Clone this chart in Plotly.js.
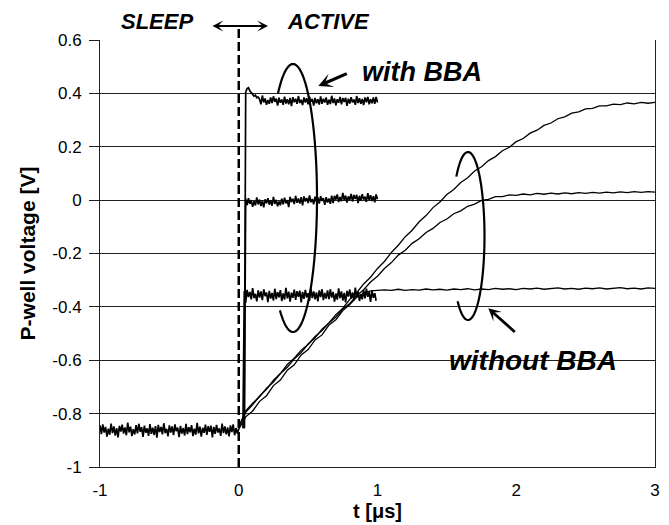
<!DOCTYPE html>
<html>
<head>
<meta charset="utf-8">
<script src="https://cdn.plot.ly/plotly-3.0.1.min.js"></script>
<style>html,body{margin:0;padding:0;background:#fff;}#chart{width:669px;height:525px;}</style>
</head>
<body>
<div id="chart"></div>
<script>
// ---- Data ----
// x axis tick values / labels
const xTickVals = [-1, 0, 1, 2, 3];
const xTickText = ['-1', '0', '1', '2', '3'];
// y axis tick values / labels
const yTickVals = [-1, -0.8, -0.6, -0.4, -0.2, 0, 0.2, 0.4, 0.6];
const yTickText = ['-1', '-0.8', '-0.6', '-0.4', '-0.2', '0', '0.2', '0.4', '0.6'];

// SLEEP period trace (sampled every 0.01 us from t = -1)
const sleepT0 = -1, sleepDt = 0.01;
const sleepV = [-0.844,-0.877,-0.840,-0.871,-0.850,-0.886,-0.856,-0.879,-0.837,-0.873,
-0.848,-0.882,-0.854,-0.889,-0.846,-0.867,-0.841,-0.875,-0.852,-0.881,
-0.834,-0.870,-0.849,-0.884,-0.858,-0.878,-0.843,-0.874,-0.838,-0.868,
-0.851,-0.887,-0.845,-0.872,-0.855,-0.883,-0.839,-0.876,-0.853,-0.880,
-0.847,-0.890,-0.842,-0.869,-0.850,-0.878,-0.836,-0.873,-0.857,-0.885,
-0.844,-0.871,-0.848,-0.881,-0.840,-0.866,-0.852,-0.888,-0.846,-0.875,
-0.854,-0.882,-0.838,-0.877,-0.851,-0.870,-0.843,-0.884,-0.856,-0.879,
-0.835,-0.874,-0.849,-0.886,-0.853,-0.872,-0.841,-0.880,-0.847,-0.868,
-0.845,-0.889,-0.850,-0.876,-0.842,-0.871,-0.855,-0.883,-0.837,-0.873,
-0.848,-0.878,-0.852,-0.885,-0.844,-0.869,-0.840,-0.881,-0.854,-0.875,-0.857];

// with BBA traces (sampled every 0.01 us)
const bbaDt = 0.01;
const bbaHighT0 = 0.04;
const bbaHighV = [-0.855,0.405,0.418,0.421,0.410,0.402,0.398,0.390,0.393,0.384,0.386,0.378,
0.359,0.392,0.366,0.381,0.357,0.375,0.361,0.385,0.364,0.389,0.368,0.380,0.354,0.384,0.365,0.377,
0.357,0.388,0.362,0.378,0.359,0.383,0.352,0.386,0.367,0.380,0.361,0.390,0.364,0.376,0.356,0.385,
0.366,0.382,0.359,0.387,0.369,0.379,0.354,0.383,0.363,0.378,0.358,0.389,0.361,0.380,0.366,0.385,
0.357,0.376,0.360,0.391,0.364,0.381,0.355,0.378,0.365,0.387,0.359,0.383,0.368,0.384,0.353,0.380,
0.362,0.386,0.366,0.377,0.357,0.390,0.364,0.382,0.361,0.379,0.356,0.385,0.367,0.387,0.359,0.378,
0.363,0.385,0.361,0.387,0.366];
const bbaMidT0 = 0.04;
const bbaMidV = [-0.855,
0.005,-0.019,0.007,-0.014,0.000,-0.025,-0.004,-0.020,0.010,-0.016,0.002,-0.022,-0.002,-0.027,0.003,-0.012,
0.007,-0.017,-0.001,-0.021,0.012,-0.014,0.001,-0.023,-0.005,-0.019,0.005,-0.016,0.009,-0.012,0.000,-0.026,
0.012,-0.007,0.005,-0.015,0.016,-0.010,0.006,-0.013,0.011,-0.020,0.014,-0.005,0.008,-0.011,0.018,-0.008,
0.004,-0.016,0.013,-0.006,0.010,-0.013,0.015,-0.003,0.007,-0.018,0.011,-0.009,0.006,-0.014,0.017,-0.011,
0.016,0.002,0.021,-0.007,0.012,-0.004,0.027,0.000,0.017,-0.009,0.014,0.001,0.023,-0.005,0.019,0.004,
0.020,-0.011,0.016,-0.002,0.022,0.002,0.013,-0.007,0.026,0.000,0.018,-0.003,0.015,-0.008,0.021,0.003];
const bbaLowT0 = 0.03;
const bbaLowV = [-0.855,
-0.341,-0.384,-0.336,-0.363,-0.344,-0.372,-0.330,-0.367,-0.351,-0.379,-0.338,-0.365,-0.342,-0.375,-0.334,-0.360,
-0.346,-0.382,-0.340,-0.369,-0.348,-0.376,-0.332,-0.371,-0.345,-0.364,-0.337,-0.378,-0.350,-0.373,-0.329,-0.368,
-0.343,-0.380,-0.347,-0.366,-0.335,-0.374,-0.341,-0.362,-0.339,-0.383,-0.344,-0.370,-0.336,-0.365,-0.349,-0.377,
-0.331,-0.367,-0.342,-0.372,-0.346,-0.379,-0.338,-0.363,-0.334,-0.375,-0.348,-0.369,-0.338,-0.371,-0.334,-0.365,
-0.344,-0.380,-0.350,-0.373,-0.331,-0.367,-0.342,-0.376,-0.348,-0.383,-0.340,-0.361,-0.335,-0.369,-0.346,-0.375,
-0.328,-0.364,-0.343,-0.378,-0.352,-0.372,-0.337,-0.368,-0.332,-0.362,-0.345,-0.381,-0.339,-0.366,-0.349,-0.377];

// without BBA traces
const noBbaT = [0.00,0.05,0.10,0.15,0.20,0.25,0.30,0.35,0.40,0.45,0.50,0.55,0.60,0.65,0.70,0.75,0.80,0.85,0.90,0.95,
1.00,1.05,1.10,1.15,1.20,1.25,1.30,1.35,1.40,1.45,1.50,1.55,1.60,1.65,1.70,1.75,1.80,1.85,1.90,1.95,
2.00,2.05,2.10,2.15,2.20,2.25,2.30,2.35,2.40,2.45,2.50,2.55,2.60,2.65,2.70,2.75,2.80,2.85,2.90,2.95,3.00];
const noBbaHighV = [-0.848,-0.790,-0.761,-0.737,-0.705,-0.682,-0.650,-0.626,-0.595,-0.571,-0.539,-0.516,-0.484,-0.460,-0.429,-0.405,-0.372,-0.347,-0.314,-0.289,
-0.256,-0.230,-0.196,-0.169,-0.137,-0.113,-0.081,-0.058,-0.028,-0.007,0.021,0.040,0.066,0.084,0.109,0.125,0.148,0.163,0.185,0.198,
0.219,0.231,0.251,0.262,0.280,0.289,0.305,0.312,0.326,0.331,0.342,0.344,0.353,0.353,0.360,0.358,0.364,0.361,0.366,0.363,0.366];
const noBbaMidV = [-0.852,-0.795,-0.767,-0.734,-0.709,-0.675,-0.650,-0.616,-0.592,-0.562,-0.541,-0.511,-0.489,-0.460,-0.438,-0.409,-0.387,-0.358,-0.336,-0.307,
-0.285,-0.256,-0.234,-0.206,-0.188,-0.162,-0.145,-0.121,-0.106,-0.084,-0.071,-0.051,-0.040,-0.023,-0.015,-0.001,0.003,0.013,0.013,0.020,
0.018,0.023,0.020,0.025,0.022,0.026,0.023,0.027,0.024,0.028,0.025,0.029,0.026,0.030,0.027,0.031,0.028,0.032,0.029,0.032,0.030];
const noBbaLowV = [-0.858,-0.812,-0.790,-0.754,-0.733,-0.695,-0.674,-0.637,-0.617,-0.580,-0.560,-0.524,-0.505,-0.468,-0.448,-0.414,-0.391,-0.364,-0.349,-0.340,
-0.338,-0.336,-0.338,-0.334,-0.338,-0.335,-0.337,-0.333,-0.336,-0.334,-0.337,-0.333,-0.335,-0.332,-0.336,-0.333,-0.335,-0.331,-0.334,-0.332,
-0.335,-0.331,-0.333,-0.330,-0.334,-0.332,-0.329,-0.333,-0.331,-0.334,-0.330,-0.332,-0.329,-0.333,-0.331,-0.328,-0.332,-0.330,-0.333,-0.329,-0.331];

// ---- Drawing ----
const FONT = 'Liberation Sans, Arial, Helvetica, sans-serif';
const M = {l: 100, r: 14, t: 40, b: 58};
const PW = 669 - M.l - M.r, PH = 525 - M.t - M.b;
const px2x = p => (p - M.l) / PW;
const px2y = p => (525 - M.b - p) / PH;

const bandStyle = {color: '#000', width: 1.7};
const curveStyle = {color: '#000', width: 1.3};
const traces = [
  {y: sleepV, x0: sleepT0, dx: sleepDt, name: 'sleep', line: bandStyle},
  {y: noBbaLowV, x: noBbaT, name: 'without BBA (low)', line: curveStyle},
  {y: noBbaMidV, x: noBbaT, name: 'without BBA (mid)', line: curveStyle},
  {y: noBbaHighV, x: noBbaT, name: 'without BBA (high)', line: curveStyle},
  {y: bbaHighV, x0: bbaHighT0, dx: bbaDt, name: 'with BBA (high)', line: bandStyle},
  {y: bbaMidV, x0: bbaMidT0, dx: bbaDt, name: 'with BBA (mid)', line: bandStyle},
  {y: bbaLowV, x0: bbaLowT0, dx: bbaDt, name: 'with BBA (low)', line: bandStyle}
].map(t => Object.assign({type: 'scatter', mode: 'lines', hoverinfo: 'skip'}, t));

// hand-drawn open ellipses (decoration), given in pixel geometry
function arcPath(cx, cy, rx, ry, a0, a1) {
  const n = 90; let d = '';
  for (let i = 0; i <= n; i++) {
    const a = (a0 + (a1 - a0) * i / n) * Math.PI / 180;
    const X = px2x(cx + rx * Math.cos(a)), Y = px2y(cy - ry * Math.sin(a));
    d += (i ? ' L' : 'M') + X.toFixed(5) + ',' + Y.toFixed(5);
  }
  return d;
}

const annFont = (s) => ({family: FONT, size: s, color: '#000', weight: 'bold', style: 'italic'});
const arrow = (hx, hy, ax, ay, w, extra) => Object.assign({
  xref: 'paper', yref: 'paper', x: px2x(hx), y: px2y(hy), ax: ax, ay: ay, text: '',
  showarrow: true, arrowhead: 3, arrowsize: 0.75, arrowwidth: w, arrowcolor: '#000',
  standoff: 0, startstandoff: 0
}, extra || {});

const layout = {
  width: 669, height: 525,
  margin: M,
  paper_bgcolor: '#fff', plot_bgcolor: '#fff',
  showlegend: false, hovermode: false,
  xaxis: {
    range: [-1, 3], tickvals: xTickVals, ticktext: xTickText,
    showgrid: false, zeroline: false, showline: true, linecolor: '#222', linewidth: 1,
    ticks: '', ticklabelstandoff: 8,
    tickfont: {family: FONT, size: 17, color: '#000'},
    title: {text: 't [μs]', font: {family: FONT, size: 20, color: '#000', weight: 'bold'}, standoff: 2},
    automargin: false
  },
  yaxis: {
    range: [-1, 0.6], tickvals: yTickVals, ticktext: yTickText,
    showgrid: true, gridcolor: '#222', gridwidth: 1, zeroline: false,
    showline: true, mirror: true, linecolor: '#222', linewidth: 1,
    ticks: 'outside', ticklen: 10, tickcolor: '#222', ticklabelstandoff: 4,
    tickfont: {family: FONT, size: 17, color: '#000'},
    title: {text: 'P-well voltage [V]', font: {family: FONT, size: 21, color: '#000', weight: 'bold'}, standoff: 10},
    automargin: false
  },
  shapes: [
    {type: 'line', xref: 'x', yref: 'paper', x0: 0, x1: 0, y0: 0, y1: px2y(28),
     line: {color: '#000', width: 2.5, dash: '9px,4px'}},
    {type: 'path', xref: 'paper', yref: 'paper', path: arcPath(293, 198, 24, 134, 129, -123),
     line: {color: '#000', width: 2.2}},
    {type: 'path', xref: 'paper', yref: 'paper', path: arcPath(468, 236, 16.5, 84, 135, -129),
     line: {color: '#000', width: 2.2}}
  ],
  annotations: [
    {xref: 'paper', yref: 'paper', x: px2x(156.5), y: px2y(22), text: 'SLEEP', showarrow: false,
     xanchor: 'center', yanchor: 'middle', font: annFont(22)},
    {xref: 'paper', yref: 'paper', x: px2x(328.5), y: px2y(22), text: 'ACTIVE', showarrow: false,
     xanchor: 'center', yanchor: 'middle', font: annFont(22)},
    arrow(268, 26, -57, 0, 1.8, {arrowside: 'end+start', arrowsize: 1}),
    {xref: 'paper', yref: 'paper', x: px2x(421.5), y: px2y(72), text: 'with BBA', showarrow: false,
     xanchor: 'center', yanchor: 'middle', font: annFont(27)},
    arrow(318.3, 86, 30, -13, 3.2),
    {xref: 'paper', yref: 'paper', x: px2x(532.5), y: px2y(360), text: 'without BBA', showarrow: false,
     xanchor: 'center', yanchor: 'middle', font: annFont(28)},
    arrow(488.3, 308.3, 28, 25, 2.8)
  ]
};

Plotly.newPlot('chart', traces, layout, {displayModeBar: false, staticPlot: true});
</script>
</body>
</html>
